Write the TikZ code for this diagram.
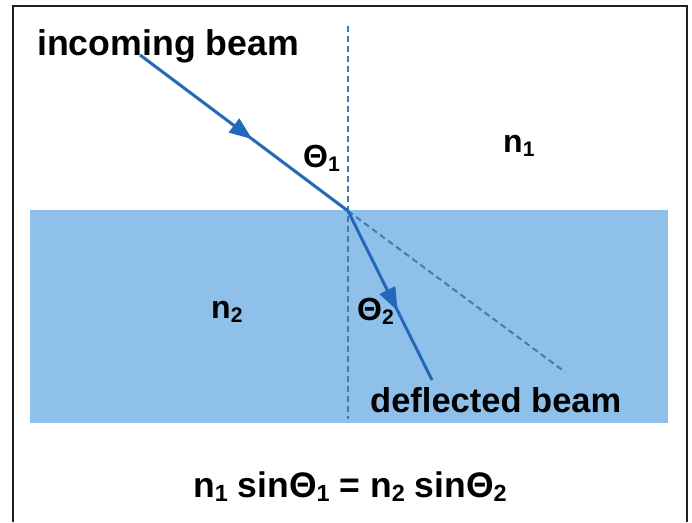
\documentclass[tikz,border=0pt]{standalone}
\usepackage{fontspec}
\setmainfont{Liberation Sans}
\usetikzlibrary{arrows.meta,decorations.markings}
\definecolor{slab}{RGB}{142,192,234}
\definecolor{beamblue}{RGB}{36,104,186}
\definecolor{dashblue}{RGB}{70,120,182}
\definecolor{framegray}{RGB}{35,31,32}
\newcommand\lowsub[1]{\raisebox{-0.14em}{\scalebox{0.66}{#1}}}
\begin{document}
\begin{tikzpicture}[x=1pt,y=-1pt,
  beam/.style={draw=beamblue,line width=3pt,
    postaction={decorate,decoration={markings,
      mark=at position #1 with {\arrow{Triangle[length=23pt,width=17pt]}}}}},
  dashline/.style={draw=dashblue,line width=2pt,dash pattern=on 6pt off 4pt},
  lbl/.style={inner sep=0pt,anchor=base west,font=\fontsize{32}{32}\selectfont\bfseries},
  big/.style={inner sep=0pt,anchor=base west,font=\fontsize{35.7}{36}\selectfont\bfseries}]
\useasboundingbox (0,0) rectangle (692,522);
\fill[white] (0,0) rectangle (692,522);
% frame
\draw[framegray,line width=2.5pt] (13,522) -- (13,6) -- (687,6) -- (687,522);
% slab
\fill[slab] (30,210) rectangle (668,423);
% points
\coordinate (src) at (140,55);
\coordinate (hit) at (348,211);
\coordinate (out) at (432,380);
\coordinate (ext) at (565,372);
\coordinate (ntop) at (348,26);
\coordinate (nbot) at (348,419);
% lines
\draw[dashline] (ntop) -- (nbot);
\draw[dashline] (hit) -- (ext);
\path[beam=0.54] (src) -- (hit);
\path[beam=0.59] (hit) -- (out);
% labels
\node[big] (inc) at (37,55) {incoming beam};
\node[lbl] (th1) at (303,167) {Θ\lowsub{1}};
\node[lbl] (n1) at (503,152) {n\lowsub{1}};
\node[lbl] (n2) at (211,318) {n\lowsub{2}};
\node[lbl] (th2) at (357,320) {Θ\lowsub{2}};
\node[lbl,font=\fontsize{34.5}{35}\selectfont\bfseries] (defl) at (370,412) {deflected beam};
\node[inner sep=0pt,anchor=base,font=\fontsize{35.5}{36}\selectfont\bfseries] (eq) at (350,497)
  {n\lowsub{1} sinΘ\lowsub{1} = n\lowsub{2} sinΘ\lowsub{2}};
\end{tikzpicture}
\end{document}
